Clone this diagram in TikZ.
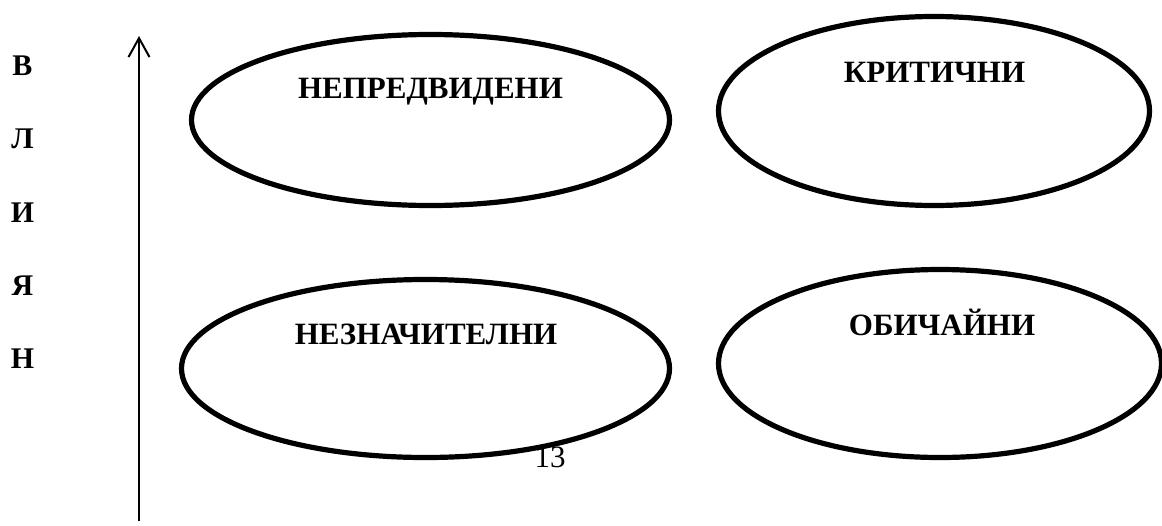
\documentclass[tikz,border=0pt]{standalone}
\usepackage{fontspec}
\setmainfont{Liberation Serif}
\usetikzlibrary{arrows.meta,shapes.geometric}
\tikzset{
  ovalis/.style={draw,ellipse,line width=5.2pt,inner sep=0pt},
  felirat/.style={font=\fontsize{31}{36}\selectfont\bfseries,inner sep=0pt,anchor=base},
  betu/.style={font=\fontsize{30}{36}\selectfont\bfseries,inner sep=0pt,anchor=base},
  oldal/.style={font=\fontsize{31}{36}\selectfont,inner sep=0pt,anchor=base},
  tengely/.style={line width=2pt,-{Straight Barb[length=19pt,width=21pt]}},
}
\begin{document}
\begin{tikzpicture}[x=1pt,y=-1pt]
  \useasboundingbox (0,0) rectangle (1162,525);
  % függőleges tengely
  \coordinate (t0) at (139,521);
  \coordinate (t1) at (139,36);
  \draw[tengely] (t0) -- (t1);
  % a tengely felirata
  \foreach \b/\y [count=\i] in {В/75,Л/148,И/222,Я/295,Н/368}
    \node[betu] (l\i) at (22.5,\y) {\b};
  % a négy csoport
  \node[ovalis,minimum width=478pt,minimum height=171pt] (a) at (430.5,120) {};
  \node[ovalis,minimum width=431pt,minimum height=189pt] (b) at (934,111) {};
  \node[ovalis,minimum width=488pt,minimum height=178pt] (c) at (425.5,368.5) {};
  \node[ovalis,minimum width=443pt,minimum height=188pt] (d) at (940,363.5) {};
  \node[felirat] (ta) at (430.5,98) {НЕПРЕДВИДЕНИ};
  \node[felirat] (tb) at (934.5,82) {КРИТИЧНИ};
  \node[felirat] (tc) at (426,344) {НЕЗНАЧИТЕЛНИ};
  \node[felirat] (td) at (942,335) {ОБИЧАЙНИ};
  % oldalszám
  \node[oldal] (p) at (550,467) {13};
\end{tikzpicture}
\end{document}
